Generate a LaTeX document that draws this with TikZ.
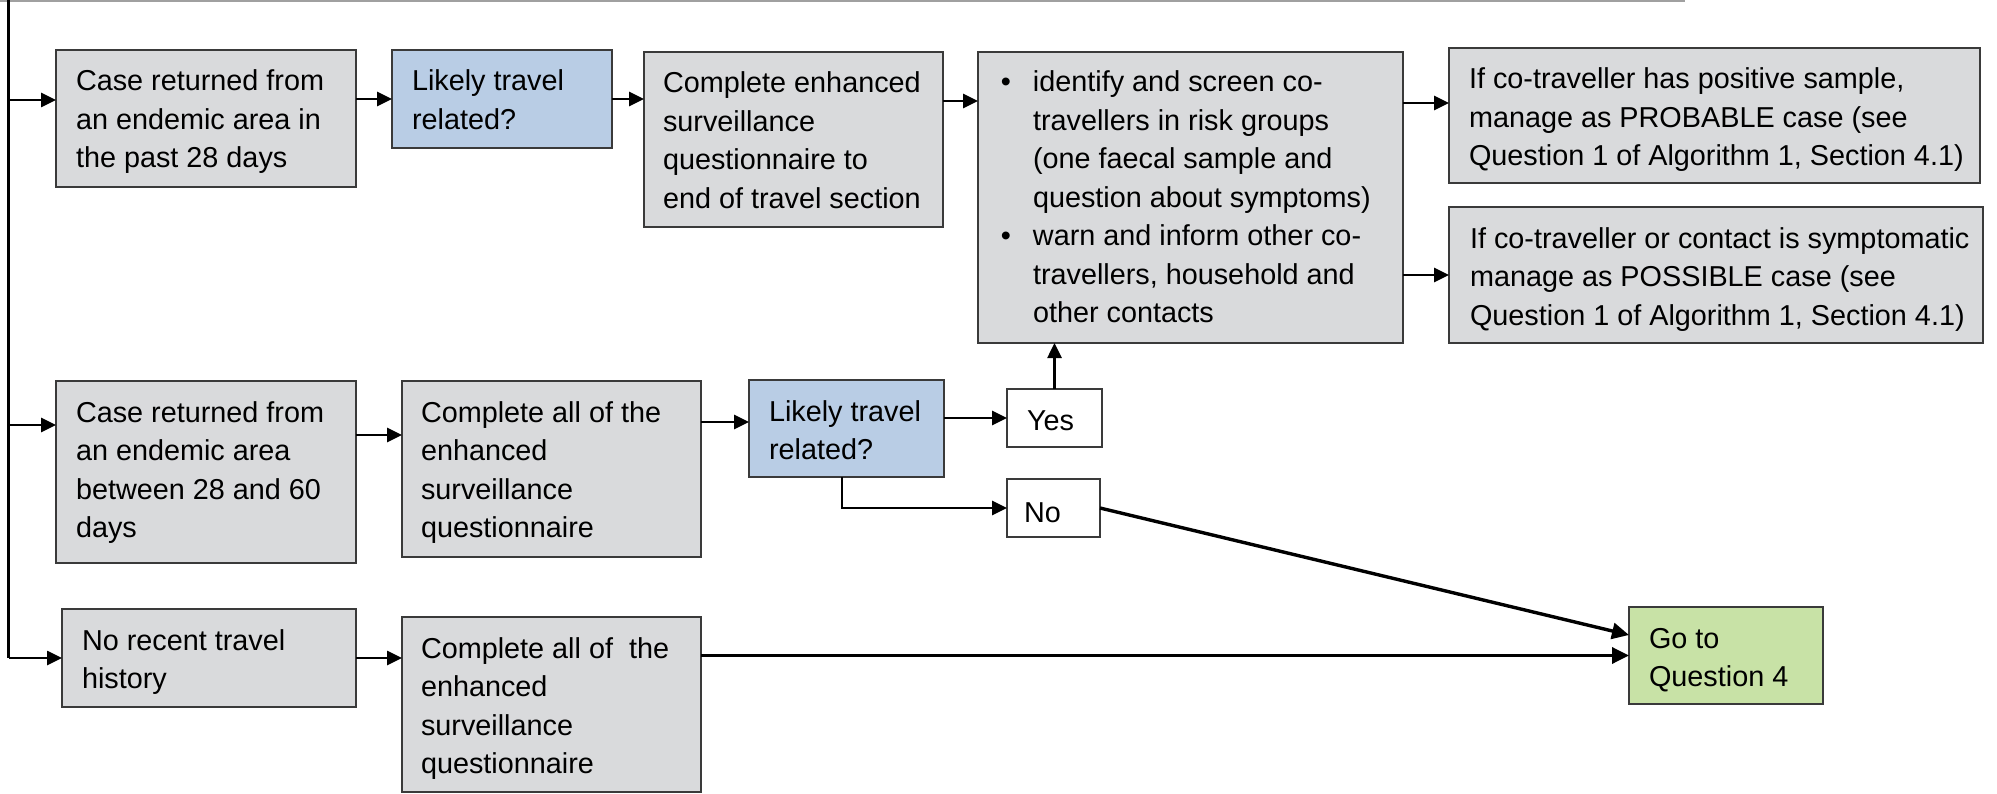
\documentclass[tikz,border=0pt]{standalone}
\usepackage{fontspec}
\setmainfont{Liberation Sans}
\usetikzlibrary{arrows.meta}
\definecolor{boxgrey}{HTML}{D9DADC}
\definecolor{boxblue}{HTML}{B9CDE5}
\definecolor{boxgreen}{HTML}{C8E2A6}
\definecolor{edgecol}{HTML}{3A3A3A}
\definecolor{rulecol}{HTML}{A0A0A0}
\newcommand\fstrut{\rule{0pt}{22pt}}
\newcommand\bul{\llap{\textbullet\hspace{22pt}}}
\begin{document}
\begin{tikzpicture}[x=1pt,y=-1pt,
  box/.style={draw=edgecol, line width=2.2pt, anchor=north west, inner sep=0pt, outer sep=0pt},
  greybox/.style={box, fill=boxgrey},
  bluebox/.style={box, fill=boxblue},
  greenbox/.style={box, fill=boxgreen},
  answerbox/.style={box, fill=white, line width=1.8pt},
  txt/.style={anchor=north west, inner sep=0pt, outer sep=0pt, align=left, font=\fontsize{28.8}{38.5}\selectfont},
  arr/.style={line width=2.6pt, -{Triangle[length=15pt,width=14pt]}},
  heavyarr/.style={line width=3.4pt, -{Triangle[length=17pt,width=16pt]}}
]
\useasboundingbox (0,0) rectangle (1997,794);
\fill[white] (0,0) rectangle (1997,794);

% boxes
\node[greybox, minimum width=300pt, minimum height=137pt] (b1) at (56,50) {};
\node[bluebox, minimum width=220pt, minimum height=98pt] (b2) at (392,50) {};
\node[greybox, minimum width=299pt, minimum height=175pt] (b3) at (644,52) {};
\node[greybox, minimum width=425pt, minimum height=291pt] (b4) at (978,52) {};
\node[greybox, minimum width=531pt, minimum height=135pt] (b5) at (1449,48) {};
\node[greybox, minimum width=534pt, minimum height=136pt] (b6) at (1449,207) {};
\node[greybox, minimum width=300pt, minimum height=182pt] (b7) at (56,381) {};
\node[greybox, minimum width=299pt, minimum height=176pt] (b8) at (402,381) {};
\node[bluebox, minimum width=195pt, minimum height=97pt] (b9) at (749,380) {};
\node[answerbox, minimum width=95pt, minimum height=58pt] (yes) at (1007,389) {};
\node[answerbox, minimum width=93pt, minimum height=58pt] (no) at (1007,479) {};
\node[greybox, minimum width=294pt, minimum height=98pt] (b10) at (62,609) {};
\node[greybox, minimum width=299pt, minimum height=175pt] (b11) at (402,617) {};
\node[greenbox, minimum width=194pt, minimum height=97pt] (go) at (1629,607) {};

% texts
\node[txt] (t1) at (76,69) {\fstrut Case returned from\\an endemic area in\\the past 28 days};
\node[txt] (t2) at (412,69) {\fstrut Likely travel\\related?};
\node[txt] (t3) at (663,71) {\fstrut Complete enhanced\\surveillance\\questionnaire to\\end of travel section};
\node[txt] (t4) at (1033,70) {\fstrut\bul identify and screen co-\\travellers in risk groups\\(one faecal sample and\\question about symptoms)\\\bul warn and inform other co-\\travellers, household and\\other contacts};
\node[txt] (t5) at (1469,67) {\fstrut If co-traveller has positive sample,\\manage as PROBABLE case (see\\Question 1 of Algorithm 1, Section 4.1)};
\node[txt] (t6) at (1470,226) {\fstrut If co-traveller or contact is symptomatic\\manage as POSSIBLE case (see\\Question 1 of Algorithm 1, Section 4.1)};
\node[txt] (t7) at (76,400) {\fstrut Case returned from\\an endemic area\\between 28 and 60\\days};
\node[txt] (t8) at (421,400) {\fstrut Complete all of the\\enhanced\\surveillance\\questionnaire};
\node[txt] (t9) at (769,399) {\fstrut Likely travel\\related?};
\node[txt] (tyes) at (1027,408) {\fstrut Yes};
\node[txt] (tno) at (1024,500) {\fstrut No};
\node[txt] (t10) at (82,628) {\fstrut No recent travel\\history};
\node[txt] (t11) at (421,636) {\fstrut Complete all of\ \ the\\enhanced\\surveillance\\questionnaire};
\node[txt] (tgo) at (1649,626) {\fstrut Go to\\Question 4};

% top rule and trunk
\coordinate (r0) at (0,1);
\coordinate (r1) at (1685,1);
\draw[rulecol, line width=2pt] (r0) -- (r1);
\coordinate (top) at (8.5,0);
\coordinate (j1) at (8.5,100);
\coordinate (j2) at (8.5,425);
\coordinate (j3) at (8.5,658);
\draw[line width=2.4pt] (top) -- (j3);

% connectors
\draw[arr] (j1) -- (j1 -| b1.west);
\draw[arr] (j2) -- (j2 -| b7.west);
\draw[arr] (j3) -- (j3 -| b10.west);
\draw[arr] (b1.east |- b2.west) -- (b2.west);
\draw[arr] (b2.east) -- (b2.east -| b3.west);
\coordinate (y3) at (0,101);
\draw[arr] (b3.east |- y3) -- (b4.west |- y3);
\coordinate (y4) at (0,103);
\draw[arr] (b4.east |- y4) -- (b5.west |- y4);
\draw[arr] (b4.east |- b6.west) -- (b6.west);
\draw[arr] (yes.north) -- (yes.north |- b4.south);
\coordinate (y7) at (0,435);
\draw[arr] (b7.east |- y7) -- (b8.west |- y7);
\coordinate (y8) at (0,422);
\draw[arr] (b8.east |- y8) -- (b9.west |- y8);
\draw[arr] (b9.east |- yes.west) -- (yes.west);
\coordinate (nx) at (842,0);
\draw[arr] (b9.south -| nx) |- (no.west);
\draw[arr] (b10.east) -- (b10.east -| b11.west);
\coordinate (gn) at (0,635);
\draw[heavyarr] (no.east) -- (go.west |- gn);
\draw[heavyarr] (b11.east |- go.west) -- (go.west);
\end{tikzpicture}
\end{document}
